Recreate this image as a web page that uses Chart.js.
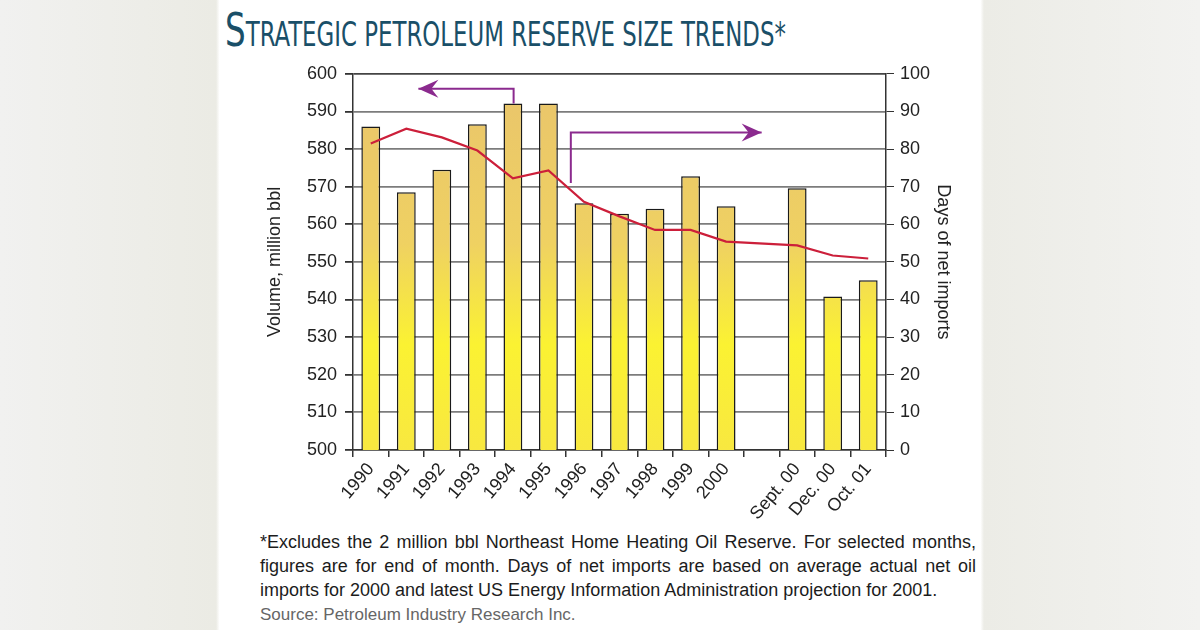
<!DOCTYPE html>
<html>
<head>
<meta charset="utf-8">
<script src="https://cdn.jsdelivr.net/npm/chart.js@4.4.1/dist/chart.umd.min.js"></script>
<style>
  html, body { margin: 0; padding: 0; }
  body {
    width: 1200px; height: 630px; overflow: hidden; position: relative;
    background: linear-gradient(90deg, #f1f1f0 0%, #ebebe4 18%, #ffffff 18.3%, #ffffff 81.7%, #ecece6 82%, #f2f2f0 100%);
  }
  #panel { position: absolute; left: 220px; top: 0; width: 760px; height: 630px; background: #fff; }
  #title {
    position: absolute; left: 5px; top: 2px; white-space: nowrap;
    font-family: "Liberation Sans Narrow", "DejaVu Sans Condensed", sans-serif;
    color: #1a4f68; transform-origin: 0 0; transform: scaleX(0.77);
  }
  #title .big { font-size: 47px; }
  #title .sm { font-size: 33px; }
  #box { position: absolute; left: 0; top: 55px; width: 760px; height: 470px; }
  #note {
    position: absolute; left: 40px; top: 530px; width: 716px;
    font-family: "Liberation Sans Narrow", "Liberation Sans", sans-serif;
    font-size: 18px; line-height: 24px; color: #1c1c1c; text-align: justify;
  }
  #src {
    position: absolute; left: 40px; top: 605px;
    font-family: "Liberation Sans Narrow", "Liberation Sans", sans-serif;
    font-size: 17px; color: #666;
  }
</style>
</head>
<body>
<div id="panel">
  <div id="title"><span class="big">S</span><span class="sm">TRATEGIC PETROLEUM RESERVE SIZE TRENDS*</span></div>
  <div id="box"><canvas id="myChart" width="760" height="470"></canvas></div>
  <div id="note">*Excludes the 2 million bbl Northeast Home Heating Oil Reserve. For selected months, figures are for end of month. Days of net imports are based on average actual net oil imports for 2000 and latest US Energy Information Administration projection for 2001.</div>
  <div id="src">Source: Petroleum Industry Research Inc.</div>
</div>
<script>
const periods = ["1990", "1991", "1992", "1993", "1994", "1995", "1996", "1997", "1998", "1999", "2000", "", "Sept. 00", "Dec. 00", "Oct. 01"];
const volume = [586, 568.5, 574.5, 586.6, 592.1, 592.1, 565.6, 562.8, 564.1, 572.8, 564.8, null, 569.6, 540.8, 545.1];
const daysOfImports = [81.5, 85.4, 83.1, 79.6, 72.2, 74.3, 66.0, 62.1, 58.5, 58.5, 55.4, null, 54.4, 51.7, 50.9];
const volumeTicks = [500, 600, 10];
const daysTicks = [0, 100, 10];

const ink = "#222";
const tickFont = { family: "Liberation Sans, Arial, sans-serif", size: 18 };

function barFill(ctx) {
  const area = ctx.chart.chartArea;
  if (!area) return "#f0d264";
  const g = ctx.chart.ctx.createLinearGradient(0, area.top, 0, area.bottom);
  g.addColorStop(0, "#e9c46c");
  g.addColorStop(0.45, "#efd162");
  g.addColorStop(0.72, "#fbf232");
  g.addColorStop(1, "#f8e840");
  return g;
}

// purple arrows pointing to each axis
const arrowPlugin = {
  id: "axisArrows",
  afterDatasetsDraw(chart) {
    const { ctx, scales } = chart;
    const x = scales.x, yl = scales.yVol, yr = scales.yDays;
    const arrows = [
      { pts: [[x.getPixelForValue(4.02), yl.getPixelForValue(592.1)], [x.getPixelForValue(4.02), yl.getPixelForValue(596)], [x.getPixelForValue(1.34), yl.getPixelForValue(596)]], dir: -1 },
      { pts: [[x.getPixelForValue(5.63), yr.getPixelForValue(71)], [x.getPixelForValue(5.63), yl.getPixelForValue(584.4)], [x.getPixelForValue(11.0), yl.getPixelForValue(584.4)]], dir: 1 }
    ];
    ctx.save();
    ctx.strokeStyle = "#8b2a8e";
    ctx.fillStyle = "#8b2a8e";
    ctx.lineWidth = 2;
    arrows.forEach(a => {
      ctx.beginPath();
      ctx.moveTo(a.pts[0][0], a.pts[0][1]);
      ctx.lineTo(a.pts[1][0], a.pts[1][1]);
      ctx.lineTo(a.pts[2][0], a.pts[2][1]);
      ctx.stroke();
      const [tx, ty] = a.pts[2];
      const d = a.dir;
      ctx.beginPath();
      ctx.moveTo(tx, ty);
      ctx.lineTo(tx - d * 20, ty - 9);
      ctx.lineTo(tx - d * 13, ty);
      ctx.lineTo(tx - d * 20, ty + 9);
      ctx.closePath();
      ctx.fill();
    });
    ctx.restore();
  }
};

new Chart("myChart", {
  type: "bar",
  data: {
    labels: periods,
    datasets: [
      {
        type: "line",
        data: daysOfImports,
        yAxisID: "yDays",
        borderColor: "#cc1f3a",
        borderWidth: 2.2,
        pointRadius: 0,
        tension: 0,
        spanGaps: true,
        order: 0
      },
      {
        data: volume,
        yAxisID: "yVol",
        backgroundColor: barFill,
        borderColor: "#1a1a1a",
        borderWidth: 1.5,
        categoryPercentage: 1,
        barPercentage: 0.53,
        order: 1
      }
    ]
  },
  options: {
    responsive: false,
    animation: false,
    layout: { padding: { top: 12, left: 42, right: 24, bottom: 0 } },
    plugins: { legend: { display: false }, tooltip: { enabled: false } },
    scales: {
      x: {
        offset: true,
        grid: { offset: true, drawOnChartArea: false, color: "#333", lineWidth: 1.5, tickLength: 7 },
        border: { color: "#333", width: 1.5 },
        ticks: { color: ink, font: tickFont, minRotation: 50, maxRotation: 50, padding: 2, autoSkip: false },
        afterFit(s) { s.height = 75; }
      },
      yVol: {
        position: "left",
        min: volumeTicks[0], max: volumeTicks[1],
        ticks: { stepSize: volumeTicks[2], color: ink, font: tickFont, padding: 8 },
        grid: {
          color: c => c.tick && c.tick.value === volumeTicks[1] ? "#444" : "#7c7c7c",
          lineWidth: 1.8, tickLength: 8, tickColor: "#333"
        },
        border: { color: "#333", width: 1.5 },
        title: { display: true, text: "Volume, million bbl", color: ink, font: { family: "Liberation Sans, Arial, sans-serif", size: 18 }, padding: 2 },
        afterFit(s) { s.width = 91; }
      },
      yDays: {
        position: "right",
        min: daysTicks[0], max: daysTicks[1],
        ticks: { stepSize: daysTicks[2], color: ink, font: tickFont, padding: 6 },
        grid: { drawOnChartArea: false, tickLength: 8, color: "#333" },
        border: { color: "#333", width: 1.5 },
        title: { display: true, text: "Days of net imports", color: ink, font: { family: "Liberation Sans, Arial, sans-serif", size: 18 }, padding: 2 },
        afterFit(s) { s.width = 70; }
      }
    }
  },
  plugins: [arrowPlugin]
});
</script>
</body>
</html>
